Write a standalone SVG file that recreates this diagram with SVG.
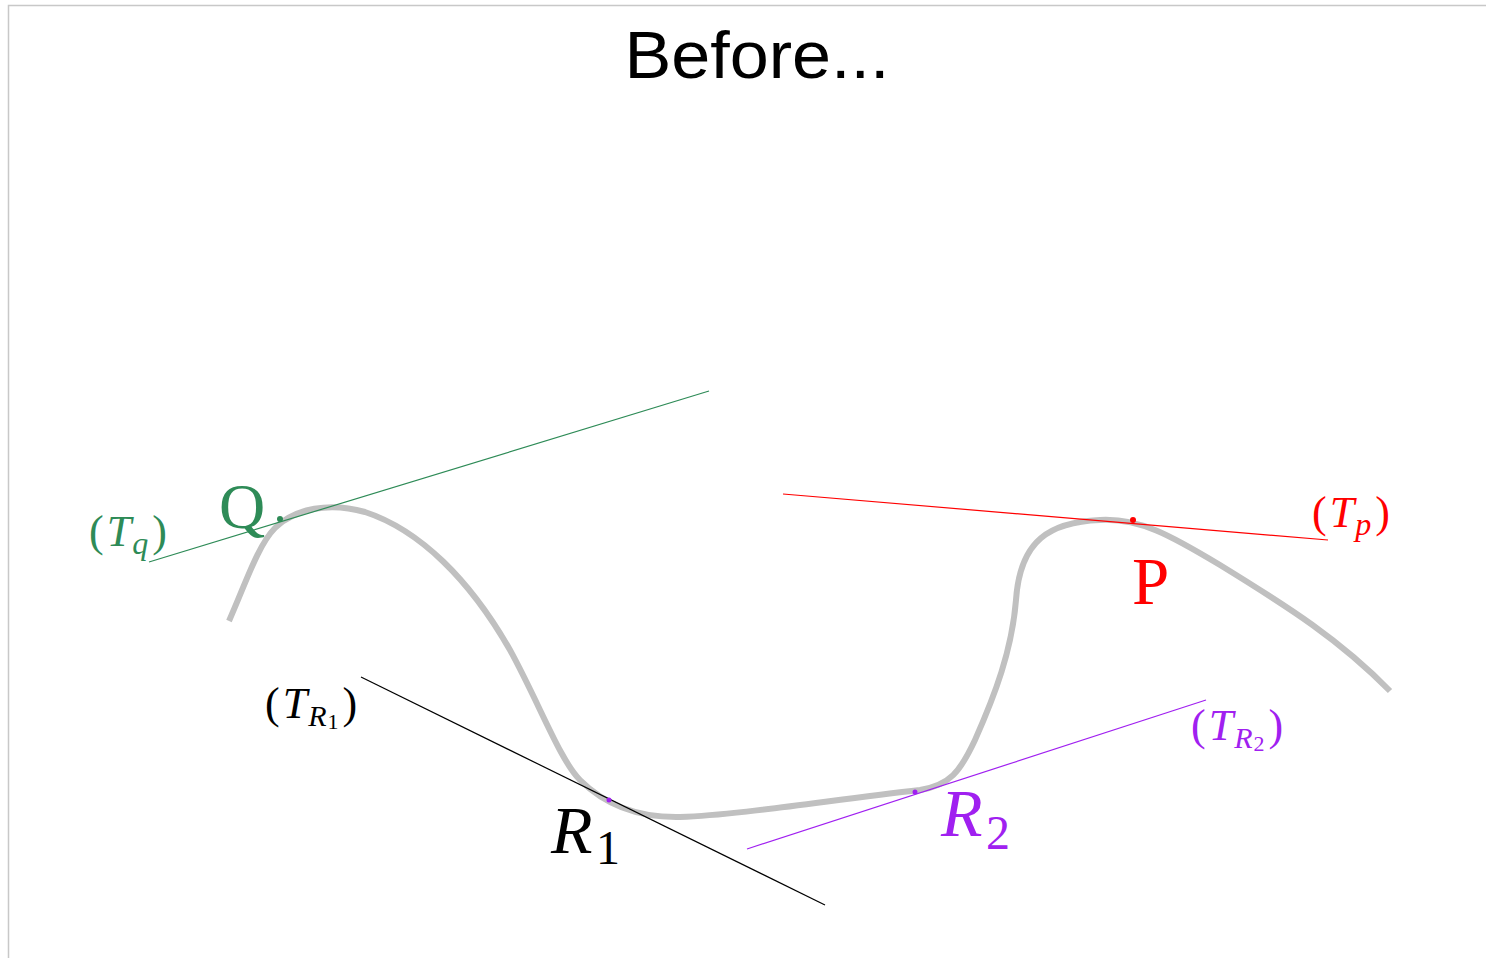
<svg xmlns="http://www.w3.org/2000/svg" width="1486" height="958" viewBox="0 0 1486 958">
<style>
.m{font-family:"Liberation Serif","DejaVu Serif",serif;}
.i{font-style:italic;}
.g{fill:#2e8b57;} .r{fill:#ff0000;} .k{fill:#000;} .p{fill:#a020f0;}
.tan{stroke-width:1.2;fill:none;}
</style>
<rect width="1486" height="958" fill="#fff"/>
<path d="M8.5,958 V5.5 H1486" fill="none" stroke="#c8c8c8" stroke-width="1.5"/>
<text x="757" y="78" text-anchor="middle" font-family="'Liberation Sans',Arial,sans-serif" font-size="66" textLength="265" lengthAdjust="spacingAndGlyphs">Before...</text>
<g id="curve">
<path d="M229,621 C245,585 258,545 275,528 C295,508 330,502 365,512 C420,530 470,580 510,650 C540,705 560,760 580,780 C600,800 630,818 680,817 C740,815 830,800 920,790 C950,785 960,772 975,740 C995,695 1012,650 1016,600 C1020,540 1050,522 1100,520 C1140,518 1170,535 1220,565 C1290,608 1340,640 1390,691" fill="none" stroke="#c0c0c0" stroke-width="6"/>
</g>
<g id="connectors">
<line class="tan" x1="149" y1="562" x2="709" y2="391" stroke="#2e8b57"/>
<line class="tan" x1="783" y1="494" x2="1328" y2="540" stroke="#ff0000"/>
<line class="tan" x1="361" y1="677" x2="825" y2="905" stroke="#000"/>
<line class="tan" x1="747" y1="849" x2="1206" y2="700" stroke="#a020f0"/>
</g>
<g id="Q">
<circle cx="280" cy="519" r="3" fill="#2e8b57"/>
<text class="m g" x="219" y="528" font-size="64">Q</text>
<text class="m g" x="89" y="546" font-size="44">(<tspan class="i" dx="3">T</tspan><tspan class="i" font-size="32" dx="1" dy="8">q</tspan><tspan dx="4" dy="-8">)</tspan></text>
</g>
<g id="P">
<circle cx="1133" cy="520" r="3" fill="#ff0000"/>
<text class="m r" x="1132" y="604" font-size="67">P</text>
<text class="m r" x="1312" y="527" font-size="44">(<tspan class="i" dx="3">T</tspan><tspan class="i" font-size="32" dx="1" dy="8">p</tspan><tspan dx="4" dy="-8">)</tspan></text>
</g>
<g id="R1">
<circle cx="609" cy="800" r="2.5" fill="#a020f0"/>
<text class="m k i" x="551" y="853" font-size="68">R</text>
<text class="m k" x="596" y="864" font-size="48">1</text>
<text class="m k" x="265" y="718" font-size="44">(<tspan class="i" dx="3">T</tspan><tspan class="i" font-size="30" dx="1" dy="8">R</tspan><tspan font-size="22" dx="1" dy="3">1</tspan><tspan dx="4" dy="-11">)</tspan></text>
</g>
<g id="R2">
<circle cx="915" cy="792" r="2.5" fill="#a020f0"/>
<text class="m p i" x="941" y="836" font-size="68">R</text>
<text class="m p" x="986" y="849" font-size="48">2</text>
<text class="m p" x="1191" y="740" font-size="44">(<tspan class="i" dx="3">T</tspan><tspan class="i" font-size="30" dx="1" dy="8">R</tspan><tspan font-size="22" dx="1" dy="3">2</tspan><tspan dx="4" dy="-11">)</tspan></text>
</g>
</svg>
